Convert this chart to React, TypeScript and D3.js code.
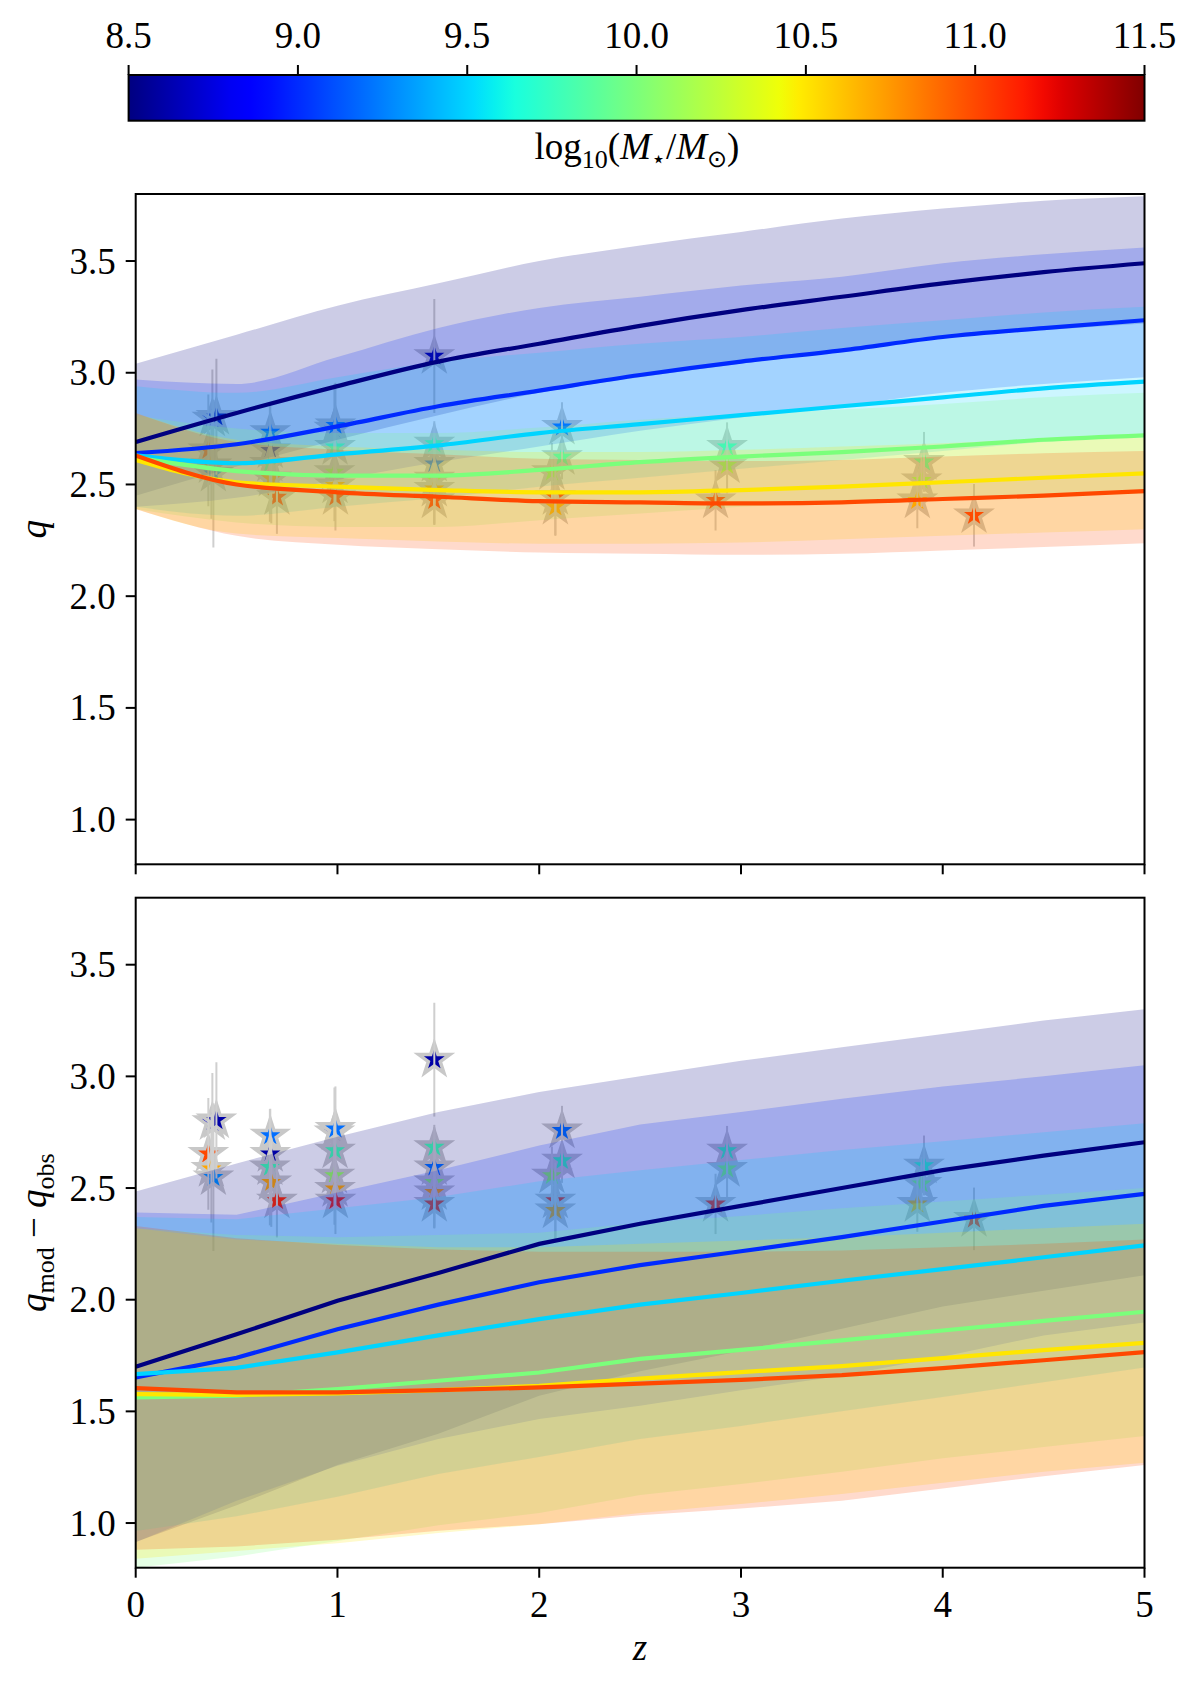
import * as d3 from "d3";

// redshift grid on which the model curves are read
const zGrid = [0, 0.5, 1, 1.5, 2, 2.5, 3, 3.5, 4, 4.5, 5];
// stellar mass of each model curve (log10 M*/Msun)
const massBins = [8.5, 9.0, 9.5, 10.0, 10.5, 11.0];

// top panel: q(z) model, with lower / upper band
const topLine = [
  [2.69, 2.82, 2.94, 3.05, 3.13, 3.21, 3.28, 3.34, 3.4, 3.45, 3.49],
  [2.64, 2.68, 2.76, 2.85, 2.92, 2.99, 3.05, 3.1, 3.16, 3.2, 3.235],
  [2.63, 2.595, 2.635, 2.675, 2.73, 2.77, 2.81, 2.85, 2.89, 2.93, 2.96],
  [2.62, 2.56, 2.54, 2.54, 2.565, 2.6, 2.625, 2.645, 2.67, 2.7, 2.72],
  [2.61, 2.51, 2.49, 2.475, 2.465, 2.465, 2.475, 2.49, 2.51, 2.53, 2.55],
  [2.63, 2.5, 2.465, 2.445, 2.425, 2.42, 2.415, 2.42, 2.435, 2.45, 2.47],
];
const topHi = [
  [3.04, 3.17, 3.3, 3.4, 3.5, 3.57, 3.63, 3.69, 3.735, 3.77, 3.79],
  [2.97, 2.95, 3.07, 3.2, 3.29, 3.34, 3.39, 3.43, 3.49, 3.53, 3.56],
  [2.94, 2.91, 2.98, 3.05, 3.09, 3.13, 3.16, 3.2, 3.235, 3.27, 3.295],
  [2.81, 2.75, 2.73, 2.73, 2.755, 2.79, 2.815, 2.835, 2.86, 2.89, 2.91],
  [2.82, 2.7, 2.67, 2.655, 2.645, 2.645, 2.655, 2.67, 2.685, 2.7, 2.71],
  [2.82, 2.69, 2.655, 2.635, 2.615, 2.61, 2.605, 2.61, 2.625, 2.64, 2.65],
];
const topLo = [
  [2.45, 2.58, 2.7, 2.81, 2.91, 2.98, 3.04, 3.1, 3.16, 3.19, 3.22],
  [2.4, 2.44, 2.52, 2.6, 2.67, 2.74, 2.8, 2.85, 2.91, 2.95, 2.98],
  [2.4, 2.36, 2.4, 2.44, 2.49, 2.53, 2.57, 2.61, 2.65, 2.69, 2.72],
  [2.39, 2.33, 2.31, 2.31, 2.34, 2.37, 2.4, 2.42, 2.44, 2.45, 2.46],
  [2.39, 2.28, 2.26, 2.245, 2.235, 2.235, 2.24, 2.255, 2.27, 2.285, 2.3],
  [2.39, 2.27, 2.23, 2.21, 2.195, 2.19, 2.185, 2.19, 2.205, 2.22, 2.237],
];

// bottom panel: q_mod - q_obs model, with lower / upper band
const botLine = [
  [1.7, 1.845, 1.995, 2.12, 2.25, 2.34, 2.42, 2.5, 2.58, 2.645, 2.705],
  [1.652, 1.74, 1.868, 1.978, 2.078, 2.155, 2.217, 2.28, 2.35, 2.42, 2.474],
  [1.667, 1.695, 1.764, 1.84, 1.913, 1.978, 2.03, 2.085, 2.137, 2.19, 2.243],
  [1.562, 1.57, 1.6, 1.637, 1.674, 1.735, 1.775, 1.818, 1.862, 1.905, 1.946],
  [1.577, 1.574, 1.58, 1.595, 1.614, 1.647, 1.676, 1.703, 1.738, 1.774, 1.807],
  [1.604, 1.585, 1.585, 1.595, 1.607, 1.624, 1.641, 1.662, 1.694, 1.729, 1.765],
];
const botHi = [
  [2.485, 2.61, 2.73, 2.84, 2.93, 3.0, 3.07, 3.13, 3.19, 3.25, 3.3],
  [2.39, 2.38, 2.48, 2.58, 2.69, 2.785, 2.84, 2.9, 2.955, 3.0, 3.05],
  [2.37, 2.36, 2.41, 2.46, 2.53, 2.58, 2.625, 2.67, 2.71, 2.75, 2.79],
  [2.32, 2.29, 2.28, 2.29, 2.3, 2.345, 2.375, 2.41, 2.44, 2.47, 2.5],
  [2.32, 2.27, 2.25, 2.235, 2.235, 2.25, 2.265, 2.28, 2.3, 2.32, 2.34],
  [2.33, 2.275, 2.245, 2.225, 2.215, 2.215, 2.215, 2.22, 2.235, 2.25, 2.27],
];
const botLo = [
  [0.915, 1.08, 1.26, 1.4, 1.57, 1.68, 1.77, 1.87, 1.97, 2.04, 2.11],
  [0.914, 1.1, 1.256, 1.376, 1.466, 1.525, 1.594, 1.66, 1.745, 1.84, 1.898],
  [0.964, 1.03, 1.118, 1.22, 1.296, 1.376, 1.435, 1.5, 1.564, 1.63, 1.696],
  [0.8, 0.85, 0.92, 0.99, 1.045, 1.125, 1.175, 1.23, 1.29, 1.34, 1.39],
  [0.84, 0.875, 0.91, 0.955, 0.995, 1.045, 1.085, 1.13, 1.18, 1.23, 1.27],
  [0.88, 0.895, 0.925, 0.965, 0.995, 1.035, 1.065, 1.1, 1.155, 1.21, 1.26],
];

// observed points (stars), same in both panels
const starZ = [0.38, 0.4, 0.36, 0.375, 0.385, 0.667, 0.667, 0.665, 0.672, 0.7, 0.985, 0.99, 0.988, 0.985, 0.988, 0.99, 1.48, 1.48, 1.48, 1.48, 1.48, 1.48, 2.113, 2.113, 2.063, 2.08, 2.08, 2.931, 2.931, 2.874, 3.907, 3.895, 3.874, 4.155];
const starQ = [2.795, 2.803, 2.653, 2.586, 2.548, 2.735, 2.653, 2.593, 2.526, 2.444, 2.75, 2.765, 2.668, 2.556, 2.496, 2.444, 3.075, 2.683, 2.593, 2.526, 2.481, 2.429, 2.758, 2.623, 2.556, 2.444, 2.4, 2.668, 2.586, 2.429, 2.601, 2.519, 2.429, 2.362];
const starErr = [0.22, 0.26, 0.25, 0.24, 0.33, 0.12, 0.15, 0.26, 0.2, 0.165, 0.2, 0.19, 0.2, 0.22, 0.16, 0.15, 0.255, 0.1, 0.18, 0.2, 0.16, 0.11, 0.11, 0.1, 0.13, 0.17, 0.13, 0.11, 0.127, 0.135, 0.134, 0.12, 0.125, 0.14];
const starMass = [8.7, 8.6, 11.0, 10.7, 9.3, 9.2, 8.6, 9.8, 10.7, 11.1, 8.6, 9.2, 9.8, 10.1, 10.7, 11.1, 8.6, 9.8, 9.2, 10.1, 10.7, 11.1, 9.2, 9.8, 10.1, 11.1, 10.7, 9.8, 10.1, 11.1, 9.8, 10.1, 10.65, 11.1];

const xTicks = [0, 1, 2, 3, 4, 5];
const yTicks = [1.0, 1.5, 2.0, 2.5, 3.0, 3.5];
const cbTicks = [8.5, 9.0, 9.5, 10.0, 10.5, 11.0, 11.5];

const FS = 37;
const txt = { fontFamily: "Liberation Serif", fontSize: FS };

// matplotlib "jet"
const jetR = [[0, 0], [0.35, 0], [0.66, 1], [0.89, 1], [1, 0.5]];
const jetG = [[0, 0], [0.125, 0], [0.375, 1], [0.64, 1], [0.91, 0], [1, 0]];
const jetB = [[0, 0.5], [0.11, 1], [0.34, 1], [0.65, 0], [1, 0]];
function seg(pts: number[][], t: number) {
  for (let i = 1; i < pts.length; i++) {
    if (t <= pts[i][0]) {
      const [x0, y0] = pts[i - 1];
      const [x1, y1] = pts[i];
      return y0 + ((t - x0) / (x1 - x0)) * (y1 - y0);
    }
  }
  return pts[pts.length - 1][1];
}
function jet(t: number) {
  const c = Math.max(0, Math.min(1, t));
  return d3.rgb(seg(jetR, c) * 255, seg(jetG, c) * 255, seg(jetB, c) * 255).formatHex();
}
const mNorm = d3.scaleLinear().domain([8.5, 11.5]).range([0, 1]);
const massColor = (m: number) => jet(mNorm(m));

const x = d3.scaleLinear().domain([0, 5]).range([135.7, 1144.5]);
const starPath = d3.symbol().type(d3.symbolStar).size(300)()!;

function Panel({ id, top, bottom, lines, his, los, showXLabels, smooth }: any) {
  const y = d3.scaleLinear().domain([0.8, 3.8]).range([bottom, top]);
  const [x0, x1] = x.range();
  const curve = smooth ? d3.curveMonotoneX : d3.curveLinear;
  const lineGen = d3
    .line<number>()
    .x((_, i) => x(zGrid[i]))
    .y((d) => y(d))
    .curve(curve);
  const bandGen = (lo: number[], hi: number[]) =>
    d3
      .area<number>()
      .x((_, i) => x(zGrid[i]))
      .y0((_, i) => y(lo[i]))
      .y1((_, i) => y(hi[i]))
      .curve(curve)(zGrid)!;

  return (
    <g>
      <clipPath id={id}>
        <rect x={x0} y={top} width={x1 - x0} height={bottom - top} />
      </clipPath>
      <g clipPath={`url(#${id})`}>
        {/* stars and error bars sit under the translucent bands */}
        {starZ.map((z, i) => (
          <path
            key={"s" + i}
            d={starPath}
            transform={`translate(${x(z)},${y(starQ[i])})`}
            fill={massColor(starMass[i])}
            stroke="#c8c8c8"
            strokeWidth={3.5}
            strokeLinejoin="miter"
          />
        ))}
        {starZ.map((z, i) => (
          <line
            key={"e" + i}
            x1={x(z)}
            x2={x(z)}
            y1={y(starQ[i] - starErr[i])}
            y2={y(starQ[i] + starErr[i])}
            stroke="#cfcfcf"
            strokeWidth={2}
          />
        ))}
        {massBins.map((m, k) => (
          <path key={"b" + k} d={bandGen(los[k], his[k])} fill={massColor(m)} fillOpacity={0.2} stroke="none" />
        ))}
        {massBins.map((m, k) => (
          <path key={"l" + k} d={lineGen(lines[k])!} fill="none" stroke={massColor(m)} strokeWidth={4.2} />
        ))}
      </g>
      <rect x={x0} y={top} width={x1 - x0} height={bottom - top} fill="none" stroke="#000" strokeWidth={2} />
      {yTicks.map((t) => (
        <g key={"y" + t}>
          <line x1={x0 - 10} x2={x0} y1={y(t)} y2={y(t)} stroke="#000" strokeWidth={2} />
          <text x={x0 - 20} y={y(t)} dy="0.34em" textAnchor="end" style={txt}>
            {t.toFixed(1)}
          </text>
        </g>
      ))}
      {xTicks.map((t) => (
        <g key={"x" + t}>
          <line x1={x(t)} x2={x(t)} y1={bottom} y2={bottom + 10} stroke="#000" strokeWidth={2} />
          {showXLabels && (
            <text x={x(t)} y={bottom + 49} textAnchor="middle" style={txt}>
              {t}
            </text>
          )}
        </g>
      ))}
    </g>
  );
}

function Colorbar() {
  const cb = d3.scaleLinear().domain([8.5, 11.5]).range([128.6, 1144.5]);
  const stops = d3.range(0, 1.0001, 0.02);
  return (
    <g>
      <defs>
        <linearGradient id="jetgrad" x1="0" x2="1" y1="0" y2="0">
          {stops.map((s) => (
            <stop key={s} offset={s} stopColor={jet(s)} />
          ))}
        </linearGradient>
      </defs>
      <rect x={cb(8.5)} y={75} width={cb(11.5) - cb(8.5)} height={45.7} fill="url(#jetgrad)" stroke="#000" strokeWidth={2} />
      {cbTicks.map((t) => (
        <g key={t}>
          <line x1={cb(t)} x2={cb(t)} y1={65} y2={75} stroke="#000" strokeWidth={2} />
          <text x={cb(t)} y={48} textAnchor="middle" style={txt}>
            {t.toFixed(1)}
          </text>
        </g>
      ))}
      <text x={637} y={159} textAnchor="middle" style={txt}>
        log
        <tspan dy={9} fontSize={26}>10</tspan>
        <tspan dy={-9}>(</tspan>
        <tspan fontStyle="italic">M</tspan>
        <tspan dy={8} fontSize={24}>⋆</tspan>
        <tspan dy={-8}>/</tspan>
        <tspan fontStyle="italic">M</tspan>
        <tspan dy={8} fontSize={24}>⊙</tspan>
        <tspan dy={-8}>)</tspan>
      </text>
    </g>
  );
}

export default function App() {
  const topP = { top: 194, bottom: 864.3 };
  const botP = { top: 897.7, bottom: 1567.7 };
  return (
    <svg
      width={1200}
      height={1690}
      viewBox="0 0 1200 1690"
      style={{ position: "absolute", left: 0, top: 0, background: "#fff" }}
    >
      <rect width={1200} height={1690} fill="#fff" />
      <Colorbar />
      <Panel id="clipTop" {...topP} lines={topLine} his={topHi} los={topLo} showXLabels={false} smooth={true} />
      <Panel id="clipBot" {...botP} lines={botLine} his={botHi} los={botLo} showXLabels={true} smooth={false} />
      <text
        transform={`translate(46,${(topP.top + topP.bottom) / 2}) rotate(-90)`}
        textAnchor="middle"
        style={{ ...txt, fontStyle: "italic" }}
      >
        q
      </text>
      <text transform={`translate(46,${(botP.top + botP.bottom) / 2}) rotate(-90)`} textAnchor="middle" style={txt}>
        <tspan fontStyle="italic">q</tspan>
        <tspan dy={8} fontSize={26}>mod</tspan>
        <tspan dy={-8}> − </tspan>
        <tspan fontStyle="italic">q</tspan>
        <tspan dy={8} fontSize={26}>obs</tspan>
      </text>
      <text x={640} y={1660} textAnchor="middle" style={{ ...txt, fontStyle: "italic" }}>
        z
      </text>
    </svg>
  );
}
